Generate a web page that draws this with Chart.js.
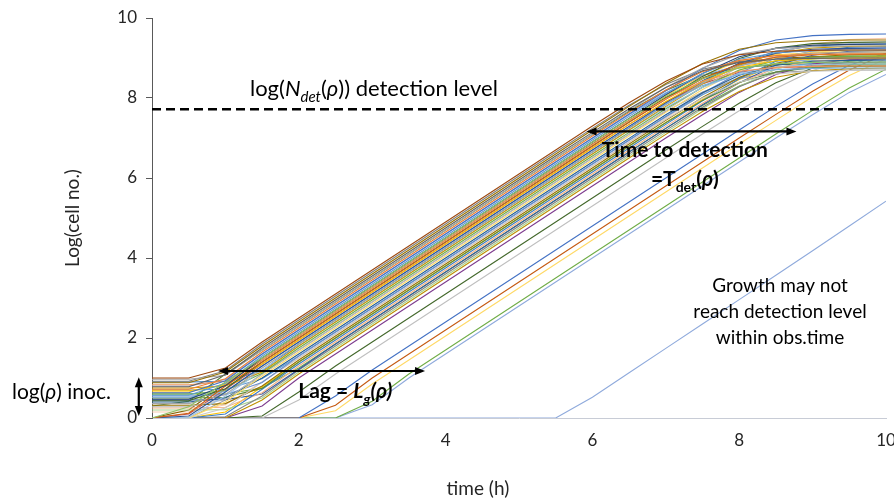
<!DOCTYPE html>
<html><head><meta charset="utf-8">
<script src="https://cdn.jsdelivr.net/npm/chart.js@4.4.1/dist/chart.umd.min.js"></script>
<style>html,body{margin:0;padding:0;background:#fff;}#wrap{width:894px;height:502px;}</style>
</head><body><div id="wrap"><canvas id="c" width="894" height="502"></canvas></div>
<script>
// time points (h)
const times = [0,0.5,1,1.5,2,2.5,3,3.5,4,4.5,5,5.5,6,6.5,7,7.5,8,8.5,9,9.5,10];
const xTickStep = 2;
const yTickStep = 2;
const detectionLevel = 7.72;
const xTitle = 'time (h)';
const yTitle = 'Log(cell no.)';

// growth curves, log(cell no.) at each time point
const c01 = [1.0,1.0,1.25,1.9,2.5,3.1,3.7,4.3,4.9,5.5,6.1,6.7,7.3,7.88,8.42,8.85,9.08,9.17,9.19,9.2,9.2];
const c02 = [0.88,0.88,1.15,1.8,2.4,3.0,3.6,4.2,4.8,5.4,6.0,6.6,7.2,7.79,8.36,8.86,9.22,9.38,9.43,9.45,9.45];
const c03 = [0.78,0.78,1.08,1.75,2.35,2.95,3.55,4.15,4.75,5.35,5.95,6.55,7.14,7.73,8.26,8.68,8.89,8.97,8.99,9.0,9.0];
const c04 = [0.97,0.97,1.07,1.7,2.3,2.9,3.5,4.1,4.7,5.3,5.9,6.5,7.1,7.69,8.26,8.75,9.09,9.24,9.28,9.3,9.3];
const c05 = [0.72,0.72,0.98,1.65,2.25,2.85,3.45,4.05,4.65,5.25,5.85,6.45,7.05,7.64,8.2,8.66,8.94,9.06,9.09,9.1,9.1];
const c06 = [0.63,0.63,0.93,1.6,2.2,2.8,3.4,4.0,4.6,5.2,5.8,6.4,7.0,7.6,8.18,8.74,9.19,9.45,9.56,9.59,9.6];
const c07 = [0,0.28,0.9,1.5,2.1,2.7,3.3,3.9,4.5,5.1,5.7,6.3,6.9,7.48,8.04,8.49,8.75,8.86,8.89,8.9,8.9];
const c08 = [0.57,0.57,0.87,1.55,2.15,2.75,3.35,3.95,4.55,5.15,5.75,6.35,6.95,7.54,8.11,8.61,8.97,9.13,9.18,9.2,9.2];
const c09 = [0.47,0.47,0.81,1.5,2.1,2.7,3.3,3.9,4.5,5.1,5.7,6.3,6.9,7.49,8.08,8.61,9.03,9.24,9.32,9.34,9.35];
const c10 = [0.83,0.83,0.92,1.45,2.05,2.65,3.25,3.85,4.45,5.05,5.65,6.25,6.84,7.43,7.98,8.42,8.67,8.77,8.79,8.8,8.8];
const c11 = [0,0.12,0.8,1.4,2.0,2.6,3.2,3.8,4.4,5.0,5.6,6.2,6.8,7.39,7.97,8.48,8.85,9.02,9.08,9.1,9.1];
const c12 = [0.43,0.43,0.73,1.4,2.0,2.6,3.2,3.8,4.4,5.0,5.6,6.2,6.8,7.4,7.98,8.54,8.99,9.25,9.36,9.39,9.4];
const c13 = [0.68,0.68,0.82,1.35,1.95,2.55,3.15,3.75,4.35,4.95,5.55,6.15,6.75,7.34,7.91,8.41,8.77,8.93,8.98,9.0,9.0];
const c14 = [0,0.05,0.65,1.3,1.9,2.5,3.1,3.7,4.3,4.9,5.5,6.1,6.7,7.29,7.88,8.43,8.87,9.12,9.22,9.24,9.25];
const c15 = [0.52,0.52,0.66,1.3,1.9,2.5,3.1,3.7,4.3,4.9,5.5,6.1,6.7,7.29,7.85,8.31,8.59,8.71,8.74,8.75,8.75];
const c16 = [0.36,0.36,0.59,1.25,1.85,2.45,3.05,3.65,4.25,4.85,5.45,6.05,6.65,7.24,7.83,8.37,8.8,9.03,9.12,9.14,9.15];
const c17 = [0.75,0.75,0.8,1.15,1.8,2.4,3.0,3.6,4.2,4.8,5.4,6.0,6.6,7.2,7.79,8.35,8.82,9.12,9.25,9.29,9.3];
const c18 = [0,0.02,0.55,1.2,1.8,2.4,3.0,3.6,4.2,4.8,5.4,6.0,6.6,7.19,7.76,8.26,8.62,8.78,8.83,8.85,8.85];
const c19 = [0.6,0.6,0.68,1.12,1.75,2.35,2.95,3.55,4.15,4.75,5.35,5.95,6.55,7.14,7.73,8.27,8.7,8.93,9.02,9.04,9.05];
const c20 = [0.28,0.28,0.46,1.1,1.7,2.3,2.9,3.5,4.1,4.7,5.3,5.9,6.5,7.1,7.69,8.27,8.78,9.15,9.32,9.38,9.4];
const c21 = [0,0,0.4,1.05,1.65,2.25,2.85,3.45,4.05,4.65,5.25,5.85,6.45,7.05,7.64,8.21,8.69,9.01,9.15,9.19,9.2];
const c22 = [0.4,0.4,0.5,1.0,1.6,2.2,2.8,3.4,4.0,4.6,5.2,5.8,6.4,6.99,7.58,8.13,8.57,8.82,8.92,8.94,8.95];
const c23 = [0.55,0.55,0.58,0.89,1.55,2.15,2.75,3.35,3.95,4.55,5.15,5.75,6.35,6.95,7.54,8.12,8.63,9.0,9.17,9.23,9.25];
const c24 = [0,0,0.25,0.9,1.5,2.1,2.7,3.3,3.9,4.5,5.1,5.7,6.3,6.89,7.47,8.0,8.4,8.6,8.67,8.69,8.7];
const c25 = [0.32,0.32,0.36,0.8,1.45,2.05,2.65,3.25,3.85,4.45,5.05,5.65,6.25,6.85,7.44,8.01,8.51,8.87,9.03,9.08,9.1];
const c26 = [0.5,0.5,0.52,0.74,1.4,2.0,2.6,3.2,3.8,4.4,5.0,5.6,6.2,6.8,7.38,7.94,8.39,8.65,8.76,8.79,8.8];
const c27 = [0,0,0.1,0.72,1.35,1.95,2.55,3.15,3.75,4.35,4.95,5.55,6.15,6.75,7.34,7.93,8.48,8.92,9.17,9.27,9.29];
const c28 = [0.25,0.25,0.27,0.63,1.3,1.9,2.5,3.1,3.7,4.3,4.9,5.5,6.1,6.7,7.29,7.87,8.38,8.75,8.92,8.98,9.0];
const c29 = [0.45,0.45,0.46,0.6,1.22,1.85,2.45,3.05,3.65,4.25,4.85,5.45,6.05,6.65,7.24,7.83,8.38,8.82,9.07,9.17,9.19];
const c30 = [0,0,0.03,0.55,1.2,1.8,2.4,3.0,3.6,4.2,4.8,5.4,6.0,6.6,7.19,7.77,8.28,8.65,8.82,8.88,8.9];
const c31 = [0.2,0.2,0.21,0.5,1.15,1.75,2.35,2.95,3.55,4.15,4.75,5.35,5.95,6.55,7.14,7.73,8.28,8.72,8.97,9.07,9.09];
const c32 = [0,0,0,0.45,1.1,1.7,2.3,2.9,3.5,4.1,4.7,5.3,5.9,6.5,7.09,7.66,8.16,8.52,8.68,8.73,8.75];
const c33 = [0,0,0,0.3,1.0,1.6,2.2,2.8,3.4,4.0,4.6,5.2,5.8,6.4,7.0,7.58,8.14,8.59,8.85,8.96,8.99];
const c34 = [0.92,0.92,1.18,1.85,2.45,3.05,3.65,4.25,4.85,5.45,6.05,6.65,7.24,7.82,8.34,8.72,8.91,8.98,9.0,9.0,9.0];
const c35 = [0.8,0.8,0.96,1.6,2.2,2.8,3.4,4.0,4.6,5.2,5.8,6.4,6.99,7.58,8.13,8.57,8.82,8.92,8.94,8.95,8.95];
const c36 = [0.65,0.65,0.85,1.5,2.1,2.7,3.3,3.9,4.5,5.1,5.7,6.3,6.9,7.49,8.06,8.56,8.92,9.08,9.13,9.15,9.15];
const c37 = [0,0.1,0.72,1.35,1.95,2.55,3.15,3.75,4.35,4.95,5.55,6.15,6.75,7.34,7.9,8.36,8.64,8.76,8.79,8.8,8.8];
const c38 = [0.9,0.9,0.92,1.18,1.85,2.45,3.05,3.65,4.25,4.85,5.45,6.05,6.65,7.25,7.84,8.4,8.87,9.17,9.3,9.34,9.35];
const c39 = [0,0,0.45,1.1,1.7,2.3,2.9,3.5,4.1,4.7,5.3,5.9,6.5,7.09,7.66,8.15,8.49,8.64,8.68,8.7,8.7];
const c40 = [0.7,0.7,0.72,0.98,1.55,2.15,2.75,3.35,3.95,4.55,5.15,5.75,6.35,6.94,7.53,8.08,8.52,8.77,8.87,8.89,8.9];
const c41 = [0,0,0.15,0.78,1.4,2.0,2.6,3.2,3.8,4.4,5.0,5.6,6.2,6.8,7.39,7.96,8.46,8.82,8.98,9.03,9.05];
const c42 = [0.6,0.6,0.6,0.75,1.25,1.85,2.45,3.05,3.65,4.25,4.85,5.45,6.05,6.65,7.24,7.81,8.3,8.64,8.79,8.83,8.85];
const c43 = [0,0.2,0.85,1.45,2.05,2.65,3.25,3.85,4.45,5.05,5.65,6.25,6.85,7.44,8.01,8.5,8.84,8.99,9.03,9.05,9.05];
const c44 = [0.3,0.42,1.1,1.7,2.3,2.9,3.5,4.1,4.7,5.3,5.9,6.5,7.09,7.67,8.19,8.57,8.76,8.83,8.85,8.85,8.85];
const c45 = [0.15,0.15,0.33,0.9,1.5,2.1,2.7,3.3,3.9,4.5,5.1,5.7,6.3,6.9,7.5,8.08,8.64,9.09,9.35,9.46,9.49];
// late starters
const s1 = [0,0,0,0.05,0.65,1.3,1.9,2.5,3.1,3.7,4.3,4.9,5.5,6.1,6.7,7.29,7.87,8.38,8.75,8.92,8.98];
const s2 = [0,0,0,0,0.45,1.1,1.7,2.3,2.9,3.5,4.1,4.7,5.3,5.9,6.5,7.1,7.68,8.24,8.69,8.95,9.06];
const s3 = [0,0,0,0,0,0.55,1.2,1.8,2.4,3.0,3.6,4.2,4.8,5.4,6.0,6.6,7.2,7.79,8.35,8.82,9.12];
const s4 = [0,0,0,0,0,0.32,1.0,1.6,2.2,2.8,3.4,4.0,4.6,5.2,5.8,6.4,7.0,7.59,8.17,8.7,9.1];
const s5 = [0,0,0,0,0,0.18,0.85,1.45,2.05,2.65,3.25,3.85,4.45,5.05,5.65,6.25,6.85,7.44,8.03,8.56,8.98];
const s6 = [0,0,0,0,0,0,0.42,1.1,1.7,2.3,2.9,3.5,4.1,4.7,5.3,5.9,6.5,7.1,7.69,8.25,8.72];
const s7 = [0,0,0,0,0,0,0.33,1.0,1.6,2.2,2.8,3.4,4.0,4.6,5.2,5.8,6.4,7.0,7.58,8.14,8.59];
const s8 = [0,0,0,0,0,0,0,0,0,0,0,0,0.52,1.13,1.74,2.35,2.96,3.57,4.18,4.8,5.42];

const curves = [c01,c02,c03,c04,c05,c06,c07,c08,c09,c10,c11,c12,c13,c14,c15,c16,c17,c18,c19,c20,c21,c22,c23,c24,c25,c26,c27,c28,c29,c30,c31,c32,c33,c34,c35,c36,c37,c38,c39,c40,c41,c42,c43,c44,c45,s1,s2,s3,s4,s5,s6,s7,s8];
const curveColors = ['#9E480E','#997300','#636363','#A5A5A5','#ED7D31','#4472C4','#8CC168','#5B9BD5','#264478','#F1975A',
  '#D26012','#43682B','#FFC000','#2F5597','#7CAFDD','#A5A5A5','#CC9A00','#9DC3E6','#70AD47','#B7B7B7',
  '#FFD966','#255E91','#698ED0','#C9C9C9','#997300','#5A8A39','#3C7DC4','#F4B183','#335AA1','#848484',
  '#A9D18E','#BF9000','#7E3C8E','#7F7F7F','#8FAADC','#FFCD33','#C0504D','#2E75B6','#A5A5A5','#5B9BD5',
  '#FFC000','#70AD47','#7F6000','#548235','#F8CBAD',
  '#43682B','#BFBFBF','#4472C4','#C55A11','#FFD966','#70AD47','#8FAADC','#8FAADC'];

const FONT = 'Lato, "Open Sans", sans-serif';
const TXT = '#262626';

function richText(ctx, parts, x, y, align, size, color) {
  const fontFor = p => (p.i ? 'italic ' : '') + (p.b ? 'bold ' : '') + (p.sub ? Math.round(size * 0.68) : size) + 'px ' + FONT;
  let w = 0;
  parts.forEach(p => { ctx.font = fontFor(p); p.w = ctx.measureText(p.t).width; w += p.w; });
  let cx = align === 'center' ? x - w / 2 : x;
  ctx.textAlign = 'left'; ctx.textBaseline = 'alphabetic'; ctx.fillStyle = color || '#000';
  parts.forEach(p => { ctx.font = fontFor(p); ctx.fillText(p.t, cx, y + (p.sub ? size * 0.28 : 0)); cx += p.w; });
}
function arrowHead(ctx, x, y, dx, dy) {
  const L = 10, H = 4;
  const px = -dy, py = dx;
  ctx.beginPath();
  ctx.moveTo(x, y);
  ctx.lineTo(x - dx * L + px * H, y - dy * L + py * H);
  ctx.lineTo(x - dx * L - px * H, y - dy * L - py * H);
  ctx.closePath(); ctx.fill();
}
function dblArrow(ctx, x1, y1, x2, y2) {
  const len = Math.hypot(x2 - x1, y2 - y1), dx = (x2 - x1) / len, dy = (y2 - y1) / len;
  ctx.strokeStyle = '#000'; ctx.fillStyle = '#000'; ctx.lineWidth = 2.2;
  ctx.beginPath(); ctx.moveTo(x1 + dx * 6, y1 + dy * 6); ctx.lineTo(x2 - dx * 6, y2 - dy * 6); ctx.stroke();
  arrowHead(ctx, x2, y2, dx, dy);
  arrowHead(ctx, x1, y1, -dx, -dy);
}

const annotations = {
  id: 'annotations',
  afterDatasetsDraw(chart) {
    const {ctx, scales: {x, y}} = chart;
    const X = v => x.getPixelForValue(v), Y = v => y.getPixelForValue(v);
    ctx.save();
    dblArrow(ctx, X(0.9), Y(1.175), X(3.72), Y(1.175));
    dblArrow(ctx, X(5.92), Y(7.165), X(8.78), Y(7.165));
    dblArrow(ctx, X(-0.18), Y(1.02), X(-0.18), Y(0.05));
    richText(ctx, [{t:'log('},{t:'N',i:true},{t:'det',i:true,sub:true},{t:'('},{t:'ρ',i:true},{t:')) detection level'}], X(1.335), Y(8.05), 'left', 22);
    richText(ctx, [{t:'Time to detection',b:true}], X(7.26), Y(6.525), 'center', 21);
    richText(ctx, [{t:'=T',b:true},{t:'det',b:true,sub:true},{t:'(',b:true},{t:'ρ',b:true,i:true},{t:')',b:true}], X(7.26), Y(5.8), 'center', 21);
    richText(ctx, [{t:'Lag = ',b:true},{t:'L',b:true,i:true},{t:'g',b:true,i:true,sub:true},{t:'(ρ)',b:true,i:true}], X(1.993), Y(0.49), 'left', 21);
    richText(ctx, [{t:'Growth may not'}], X(8.556), Y(3.14), 'center', 19);
    richText(ctx, [{t:'reach detection level'}], X(8.556), Y(2.49), 'center', 19);
    richText(ctx, [{t:'within obs.time'}], X(8.556), Y(1.84), 'center', 19);
    richText(ctx, [{t:'log('},{t:'ρ',i:true},{t:') inoc.'}], X(-1.907), Y(0.475), 'left', 21);
    // x-axis title (placed left of centre as in the original)
    richText(ctx, [{t:xTitle}], X(4.44), Y(-1.93), 'center', 19, TXT);
    ctx.restore();
  }
};

const datasets = [{
  data: [{x: times[0], y: detectionLevel}, {x: times[times.length - 1], y: detectionLevel}],
  borderColor: '#000', borderWidth: 2.5, borderDash: [9, 5], pointRadius: 0, showLine: true, fill: false
}];
curves.forEach((vals, i) => {
  datasets.push({
    data: times.map((t, k) => ({x: t, y: vals[k]})),
    borderColor: curveColors[i], borderWidth: 1.1, pointRadius: 0, showLine: true, fill: false, tension: 0
  });
});

new Chart(document.getElementById('c'), {
  type: 'scatter',
  data: {datasets},
  options: {
    responsive: false, animation: false, devicePixelRatio: 1,
    layout: {padding: {top: 18, right: 8, left: 0, bottom: 0}},
    plugins: {legend: {display: false}, tooltip: {enabled: false}},
    scales: {
      x: {
        type: 'linear', min: 0, max: 10,
        ticks: {stepSize: xTickStep, padding: 12, color: TXT, font: {family: FONT, size: 17}},
        grid: {display: false, drawTicks: false},
        border: {color: '#C8CCD6', width: 1},
        title: {display: false},
        afterFit(s) { s.height = 84; s.paddingLeft = 0; s.paddingRight = 0; }
      },
      y: {
        min: 0, max: 10,
        ticks: {stepSize: yTickStep, padding: 9, color: TXT, font: {family: FONT, size: 17}},
        grid: {drawOnChartArea: false, drawTicks: true, tickLength: 6, color: '#595959'},
        border: {color: '#595959', width: 1},
        title: {display: true, text: yTitle, color: TXT, font: {family: FONT, size: 19}, padding: {top: 61, bottom: 0}},
        afterFit(s) { s.width = 152; s.paddingTop = 0; s.paddingBottom = 0; }
      }
    }
  },
  plugins: [annotations]
});
</script>
</body></html>
